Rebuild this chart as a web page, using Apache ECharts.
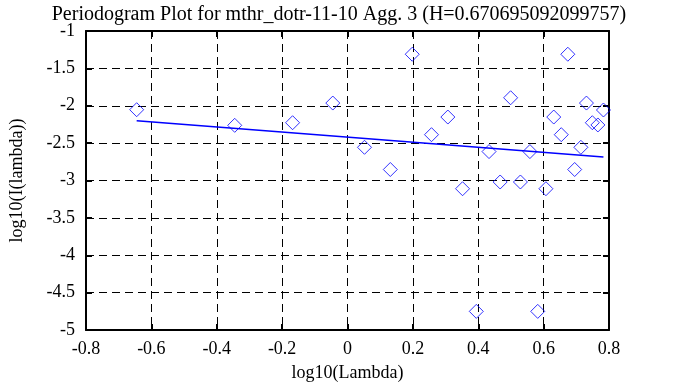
<!DOCTYPE html>
<html><head><meta charset="utf-8">
<script src="https://cdn.jsdelivr.net/npm/echarts@6/dist/echarts.min.js"></script>
<style>html,body{margin:0;padding:0;background:#fff}#c{width:678px;height:387px}</style>
</head><body><div id="c"></div>
<script>
const titleText = 'Periodogram Plot for mthr_dotr-11-10 Agg. 3 (H=0.670695092099757)';
const logLambda = [-0.645,-0.345,-0.168,-0.045,0.052,0.131,0.198,0.257,0.307,0.352,0.394,0.433,0.467,0.499,0.529,0.558,0.582,0.607,0.631,0.654,0.674,0.695,0.714,0.731,0.749,0.766,0.783];
const logI =      [-2.053,-2.262,-2.227,-1.964,-2.556,-2.853,-1.311,-2.387,-2.151,-3.11,-4.751,-2.613,-3.02,-1.893,-3.02,-2.613,-4.751,-3.11,-2.151,-2.387,-1.311,-2.853,-2.556,-1.964,-2.227,-2.257,-2.057];
const fitX = [-0.645, 0.783];
const fitY = [-2.20, -2.687];
const xTicks = [-0.8,-0.6,-0.4,-0.2,0,0.2,0.4,0.6,0.8];
const yTicks = [-5,-4.5,-4,-3.5,-3,-2.5,-2,-1.5,-1];

const font = 'Liberation Serif';
const chart = echarts.init(document.getElementById('c'));
const axisLine = {show:true, onZero:false, lineStyle:{color:'#000', width:2}};
const tick = {show:true, inside:true, length:6, lineStyle:{color:'#000', width:2}};
const split = {show:true, lineStyle:{color:'#000', width:1, type:[8,5]}};
chart.setOption({
  animation:false,
  backgroundColor:'#fff',
  title:{text:titleText, left:'center', top:0, textStyle:{fontFamily:font, fontSize:20, fontWeight:'normal', color:'#000'}},
  grid:{left:81, right:69, top:31, bottom:56},
  xAxis:[
    {type:'value', min:xTicks[0], max:xTicks[xTicks.length-1], interval:0.2, position:'bottom',
     name:'log10(Lambda)', nameLocation:'middle', nameGap:34, nameTextStyle:{fontFamily:font, fontSize:18, color:'#000'},
     axisLine, axisTick:tick, splitLine:split,
     axisLabel:{fontFamily:font, fontSize:18, color:'#000', margin:10, formatter:v=>String(Math.round(v*10)/10)}},
    {type:'value', min:xTicks[0], max:xTicks[xTicks.length-1], interval:0.2, position:'top',
     axisLine, axisTick:tick, splitLine:{show:false}, axisLabel:{show:false}}
  ],
  yAxis:[
    {type:'value', min:yTicks[0], max:yTicks[yTicks.length-1], interval:0.5, position:'left',
     name:'log10(I(lambda))', nameLocation:'middle', nameGap:60, nameTextStyle:{fontFamily:font, fontSize:18, color:'#000'},
     axisLine, axisTick:tick, splitLine:split,
     axisLabel:{fontFamily:font, fontSize:18, color:'#000', margin:11}},
    {type:'value', min:yTicks[0], max:yTicks[yTicks.length-1], interval:0.5, position:'right',
     axisLine, axisTick:tick, splitLine:{show:false}, axisLabel:{show:false}}
  ],
  series:[
    {type:'scatter', data:logLambda.map((x,i)=>[x,logI[i]]), symbol:'diamond', symbolSize:[14,14],
     itemStyle:{color:'transparent', borderColor:'#0000ff', borderWidth:1}},
    {type:'line', data:fitX.map((x,i)=>[x,fitY[i]]), symbol:'none', lineStyle:{color:'#0000ff', width:1.5}}
  ]
});
</script></body></html>
